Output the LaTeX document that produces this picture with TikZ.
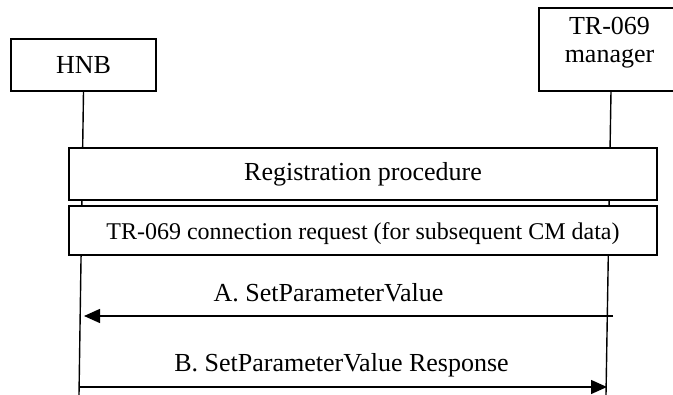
\documentclass[tikz,border=0pt]{standalone}
\usepackage{fontspec}
\setmainfont{Liberation Serif}
\usetikzlibrary{arrows.meta}
\begin{document}
\begin{tikzpicture}[x=1pt,y=-1pt,
  box/.style={draw, fill=white, line width=1.3pt, inner sep=0pt, font=\fontsize{26}{28}\selectfont},
  lifeline/.style={line width=1.4pt},
  msg/.style={line width=1.4pt, -{Triangle[length=16pt,width=14pt]}},
  lbl/.style={inner sep=0pt, anchor=base, font=\fontsize{26}{28}\selectfont}]
\useasboundingbox (0,0) rectangle (673,395);
% lifelines
\node[box, minimum width=145pt, minimum height=52pt, text height=18pt, text depth=0pt] (hnb) at (83.5,65) {HNB};
\node[box, minimum width=143pt, minimum height=83pt] (mgr) at (610.5,49.5) {};
\coordinate (hnbEnd) at (79,395);
\coordinate (mgrEnd) at (606,395);
\draw[lifeline] (hnb.south) -- (hnbEnd);
\draw[lifeline] (mgr.south -| 611,0) -- (mgrEnd);
\node[inner sep=0pt, anchor=north, align=center, font=\fontsize{26}{28}\selectfont] (mgrtxt) at (609.5,17.5) {TR-069\\manager};
% procedure boxes
\node[box, minimum width=588pt, minimum height=52pt, text height=14pt, text depth=0pt] (reg) at (363,174) {Registration procedure};
\node[box, minimum width=588pt, minimum height=49pt, text height=19pt, text depth=0pt, font=\fontsize{24}{26}\selectfont] (conn) at (363,230.5) {TR-069 connection request (for subsequent CM data)};
% messages
\coordinate (aStart) at (613,316);
\coordinate (aEnd) at (84,316);
\coordinate (bStart) at (79,387);
\coordinate (bEnd) at (607,387);
\draw[msg] (aStart) -- (aEnd);
\draw[msg] (bStart) -- (bEnd);
\node[lbl] (la) at (328.5,302) {A. SetParameterValue};
\node[lbl] (lb) at (341.5,372) {B. SetParameterValue Response};
\end{tikzpicture}
\end{document}
